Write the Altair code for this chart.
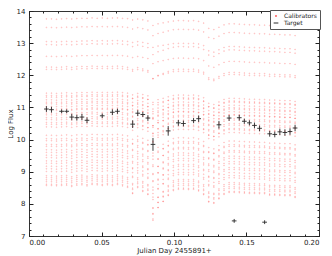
import altair as alt
import pandas as pd

# ---------------- data ----------------
# observation epochs (Julian Day - 2455891)
times = [0.0120, 0.0155, 0.0190, 0.0225, 0.0260, 0.0295, 0.0330, 0.0365, 0.0400, 0.0435,
         0.0470, 0.0505, 0.0540, 0.0575, 0.0610, 0.0645, 0.0680, 0.0715, 0.0750, 0.0785,
         0.0820, 0.0855, 0.0890, 0.0925, 0.0960, 0.0995, 0.1030, 0.1065, 0.1100, 0.1135,
         0.1170, 0.1205, 0.1240, 0.1275, 0.1310, 0.1345, 0.1380, 0.1415, 0.1450, 0.1485,
         0.1520, 0.1555, 0.1590, 0.1625, 0.1660, 0.1695, 0.1730, 0.1765, 0.1800, 0.1835]

# per-epoch zero-point shift of the calibrators
epoch_shift = [0.00, 0.00, -0.01, 0.00, 0.01, 0.00, 0.01, 0.02, 0.02, 0.03,
               0.02, 0.03, 0.02, 0.03, 0.03, 0.02, 0.01, -0.02, 0.00, -0.02,
               -0.05, -0.15, -0.12, -0.10, -0.08, -0.06, -0.05, -0.05, -0.06, -0.05,
               -0.07, -0.12, -0.28, -0.32, -0.25, -0.18, -0.15, -0.15, -0.16, -0.17,
               -0.18, -0.18, -0.19, -0.19, -0.20, -0.20, -0.21, -0.22, -0.22, -0.24]

# per-epoch extra dimming (larger for faint stars)
epoch_spread = [0.03, 0.03, 0.03, 0.03, 0.03, 0.04, 0.03, 0.03, 0.04, 0.03,
                0.03, 0.04, 0.03, 0.04, 0.03, 0.04, 0.05, 0.10, 0.05, 0.08,
                0.10, 0.30, 0.20, 0.15, 0.10, 0.06, 0.05, 0.05, 0.05, 0.05,
                0.06, 0.08, 0.10, 0.10, 0.08, 0.06, 0.05, 0.05, 0.05, 0.05,
                0.05, 0.05, 0.05, 0.05, 0.06, 0.06, 0.06, 0.06, 0.06, 0.07]

# calibrator star levels (log flux) and their sensitivity to dimming
star_level = [13.76, 13.50, 13.05, 12.97, 12.60, 12.28, 12.20,
              11.46, 11.40, 11.33, 11.26, 11.20, 11.13, 11.06, 11.00, 10.93, 10.86,
              10.79, 10.72, 10.65, 10.58, 10.50, 10.43,
              10.18, 10.08, 10.00, 9.91, 9.84, 9.75, 9.66, 9.59, 9.50, 9.42,
              9.33, 9.25, 9.18, 9.08, 8.97, 8.90, 8.85, 8.78, 8.72, 8.67]
star_sens = [0.2, 0.4, 0.1, 0.6, 0.3, 0.8, 0.5,
             0.5, 1.0, 0.3, 0.8, 1.2, 0.6, 0.9, 1.4, 0.4, 1.1,
             0.7, 1.3, 1.0, 1.6, 0.8, 1.2,
             1.5, 1.8, 1.2, 2.0, 1.6, 2.3, 1.9, 2.5, 2.1, 2.8,
             2.2, 2.6, 3.0, 2.4, 3.2, 2.9, 3.4, 3.1, 3.6, 3.3]

# target star (None = no point at that epoch)
target_flux = [10.95, 10.93, None, 10.88, 10.88, 10.70, 10.68, 10.70, 10.60, None,
               None, 10.74, None, 10.85, 10.88, None, None, 10.48, 10.82, 10.78,
               10.67, 9.85, None, None, 10.27, None, 10.52, 10.50, None, 10.59,
               10.65, None, None, None, 10.46, None, 10.67, 7.47, 10.68, 10.57,
               10.52, 10.44, 10.35, 7.43, 10.18, 10.16, 10.24, 10.22, 10.25, 10.36]
target_err = [0.09, 0.09, 0.0, 0.06, 0.06, 0.10, 0.09, 0.10, 0.09, 0.0,
              0.0, 0.07, 0.0, 0.09, 0.08, 0.0, 0.0, 0.12, 0.09, 0.08,
              0.09, 0.20, 0.0, 0.0, 0.15, 0.0, 0.09, 0.09, 0.0, 0.08,
              0.10, 0.0, 0.0, 0.0, 0.12, 0.0, 0.09, 0.06, 0.09, 0.08,
              0.08, 0.09, 0.09, 0.06, 0.09, 0.09, 0.10, 0.10, 0.10, 0.10]

x_major = [0.0, 0.05, 0.10, 0.15, 0.20]
x_minor = [round(i * 0.01, 2) for i in range(21)]
y_major = [7, 8, 9, 10, 11, 12, 13, 14]
y_minor = [round(7 + i * 0.2, 1) for i in range(36)]

# ---------------- tables ----------------
rows = []
for s, (lvl, k) in enumerate(zip(star_level, star_sens)):
    for t, sh, sp in zip(times, epoch_shift, epoch_spread):
        rows.append({"t": t, "flux": lvl + sh - sp * k, "kind": "Calibrators"})
calib = pd.DataFrame(rows)

trows = []
for t, f, e in zip(times, target_flux, target_err):
    if f is not None:
        trows.append({"t": t, "flux": f, "lo": f - e, "hi": f + e, "kind": "Target"})
target = pd.DataFrame(trows)

W, H = 290, 225

xs = alt.Scale(domain=[0, 0.2], nice=False, zero=False)
ys = alt.Scale(domain=[7, 14], nice=False, zero=False)
kinds = ["Calibrators", "Target"]
col = alt.Color("kind:N", scale=alt.Scale(domain=kinds, range=["#ff0000", "#2a2a2a"]),
                legend=alt.Legend(title=None, orient="none", legendX=241, legendY=-1,
                                  labelFontSize=6, labelFont="DejaVu Sans", labelColor="#222",
                                  symbolStrokeWidth=1, symbolOpacity=1,
                                  strokeColor="#555", fillColor="white", padding=3,
                                  rowPadding=1, labelOffset=5, offset=0))
shp = alt.Shape("kind:N", scale=alt.Scale(domain=kinds, range=["circle", "stroke"]))
siz = alt.Size("kind:N", scale=alt.Scale(domain=kinds, range=[0.6, 22]))


def tick_axis(values, orient, offset, size):
    return alt.Axis(values=values, orient=orient, offset=offset, tickSize=size,
                    labels=False, domain=False, title=None, grid=False,
                    tickColor="#222", tickWidth=1)


cal_layer = alt.Chart(calib).mark_point(filled=False, strokeWidth=0.8, opacity=0.3).encode(
    x=alt.X("t:Q", scale=xs, axis=alt.Axis(values=x_major, format=".2f", ticks=False,
                                            domain=False, labelPadding=2, grid=False,
                                            title="Julian Day 2455891+", titlePadding=1)),
    y=alt.Y("flux:Q", scale=ys, axis=alt.Axis(values=y_major, format="d", ticks=False,
                                               domain=False, labelPadding=4, grid=False,
                                               title="Log Flux", titlePadding=3)),
    color=col, shape=shp, size=siz,
)

err_layer = alt.Chart(target).mark_rule(color="#2a2a2a", strokeWidth=1, opacity=0.9).encode(
    x=alt.X("t:Q", scale=xs, axis=tick_axis(x_minor, "bottom", -H, 2)),
    y=alt.Y("lo:Q", scale=ys, axis=tick_axis(y_minor, "right", -W, 2)),
    y2="hi:Q",
)

tgt_layer = alt.Chart(target).mark_point(filled=False, strokeWidth=1, opacity=0.9).encode(
    x=alt.X("t:Q", scale=xs, axis=tick_axis(x_minor, "top", -H, 2)),
    y=alt.Y("flux:Q", scale=ys, axis=tick_axis(y_minor, "left", -W, 2)),
    color=col, shape=shp, size=siz,
)

maj1 = alt.Chart(target).mark_point(opacity=0).encode(
    x=alt.X("t:Q", scale=xs, axis=tick_axis(x_major, "bottom", -H, 4)),
    y=alt.Y("flux:Q", scale=ys, axis=tick_axis(y_major, "right", -W, 4)),
)
maj2 = alt.Chart(target).mark_point(opacity=0).encode(
    x=alt.X("t:Q", scale=xs, axis=tick_axis(x_major, "top", -H, 4)),
    y=alt.Y("flux:Q", scale=ys, axis=tick_axis(y_major, "left", -W, 4)),
)

chart = alt.layer(cal_layer, err_layer, tgt_layer, maj1, maj2).resolve_axis(
    x="independent", y="independent"
).properties(
    width=W, height=H,
    autosize=alt.AutoSizeParams(type="none"),
    padding={"left": 21, "top": 3, "right": 5, "bottom": 25},
).configure_axis(
    grid=False,
    labelFont="DejaVu Sans", labelFontSize=7, labelColor="#222",
    titleFont="DejaVu Sans", titleFontSize=7, titleColor="#222", titleFontWeight="normal",
).configure_view(stroke="#333", strokeWidth=1)

chart.save("out.html", embed_options={"renderer": "svg", "actions": False})
